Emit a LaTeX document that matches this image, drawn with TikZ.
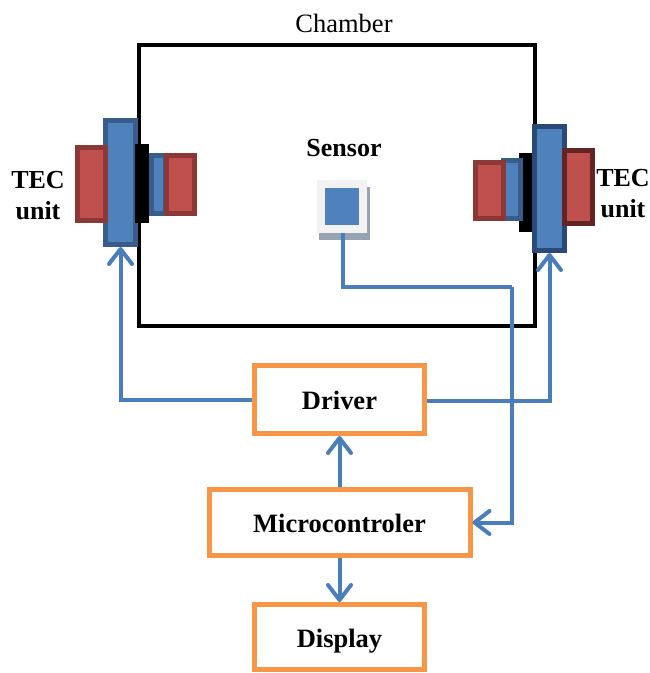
\documentclass[tikz,border=0pt]{standalone}
\usepackage{xcolor}
\usepackage{fontspec}
\setmainfont{Liberation Serif}
\usetikzlibrary{arrows.meta, positioning}

\definecolor{tecblue}{HTML}{4F81BD}
\definecolor{tecblueline}{HTML}{385D8A}
\definecolor{tecbluedark}{HTML}{2A4A75}
\definecolor{tecred}{HTML}{C0504D}
\definecolor{tecredline}{HTML}{8C3836}
\definecolor{tecreddark}{HTML}{632523}
\definecolor{boxorange}{HTML}{F79646}
\definecolor{wireblue}{HTML}{4A7EBB}
\definecolor{shadowgray}{HTML}{97A3B3}

\tikzset{
    platebox/.style={rectangle, draw, line width=5pt, inner sep=0pt},
    bluebox/.style={platebox, draw=tecblueline, fill=tecblue},
    redbox/.style={platebox, draw=tecredline, fill=tecred},
    blackbox/.style={rectangle, fill=black, inner sep=0pt},
    ctrlbox/.style={rectangle, draw=boxorange, line width=5pt, inner sep=0pt, text height=20pt, text depth=0pt, font=\fontsize{26.5}{30}\selectfont\bfseries},
    caption/.style={inner sep=0pt, align=center, font=\fontsize{26}{31}\selectfont\bfseries},
    wire/.style={draw=wireblue, line width=4pt},
    wirearrow/.style={wire, -{Straight Barb[length=15pt, width=23pt, line width=4pt, round]}}
}

\begin{document}
\begin{tikzpicture}[x=1pt, y=-1pt, node distance=51pt and 10pt]
    \useasboundingbox (0,0) rectangle (649,673);

    % Chamber
    \node[rectangle, draw, line width=4pt, inner sep=0pt, minimum width=396pt, minimum height=281pt] (chamber) at (337,185.5) {};
    \node[inner sep=0pt, font=\fontsize{26.5}{30}\selectfont] (chamberlabel) at (344,23) {Chamber};

    % Left TEC
    \node[bluebox, minimum width=30pt, minimum height=124pt] (tecleft) at (120.5,182.5) {};
    \node[redbox, minimum width=28pt, minimum height=73pt] (redleftout) at (91.5,184) {};
    \node[blackbox, minimum width=14pt, minimum height=79pt] (blackleft) at (142,183.5) {};
    \node[bluebox, minimum width=14pt, minimum height=58pt] (blueleft) at (158.5,184.5) {};
    \node[redbox, minimum width=28pt, minimum height=58pt] (redleftin) at (180.5,184.5) {};
    \node[caption] (tecleftlabel) at (38,195.5) {TEC\\unit};

    % Right TEC
    \node[blackbox, minimum width=13pt, minimum height=79pt] (blackright) at (525.5,192.5) {};
    \node[bluebox, draw=tecbluedark, minimum width=30pt, minimum height=124pt] (tecright) at (549.5,188.5) {};
    \node[redbox, draw=tecreddark, minimum width=28pt, minimum height=73pt] (redrightout) at (578.5,187) {};
    \node[bluebox, minimum width=17pt, minimum height=58pt] (blueright) at (512,189.5) {};
    \node[redbox, minimum width=28pt, minimum height=56pt] (redrightin) at (489.5,190.5) {};
    \node[caption] (tecrightlabel) at (623,194) {TEC\\unit};

    % Sensor
    \node[rectangle, fill=shadowgray, inner sep=0pt, minimum width=51pt, minimum height=53pt] (sensorshadow) at (344.5,213.5) {};
    \node[rectangle, fill=black!5, inner sep=0pt, minimum width=50pt, minimum height=53pt] (sensor) at (342,206.5) {};
    \node[rectangle, fill=tecblue, inner sep=0pt, minimum width=34pt, minimum height=37pt] (sensorchip) at (342,206.5) {};
    \node[inner sep=0pt, font=\fontsize{26}{30}\selectfont\bfseries] (sensorlabel) at (344,148) {Sensor};

    % Boxes
    \node[ctrlbox, minimum width=170pt, minimum height=68pt] (driver) at (339.5,399.5) {Driver};
    \node[ctrlbox, minimum width=261pt, minimum height=66pt, below=of driver] (micro) {Microcontroler};
    \node[ctrlbox, minimum width=170pt, minimum height=65pt, below=44pt of micro] (display) {Display};

    % Wires
    \coordinate (bend) at (512,287);
    \draw[wire] ([xshift=1pt]sensor.south) |- (bend);
    \draw[wirearrow] (bend) |- (micro.east);
    \draw[wirearrow] (driver.west) -| (tecleft.south);
    \draw[wirearrow] ([yshift=-1.5pt]driver.east) -| (tecright.south);
    \draw[wirearrow] (micro) -- (driver);
    \draw[wirearrow] (micro) -- (display);
\end{tikzpicture}
\end{document}
